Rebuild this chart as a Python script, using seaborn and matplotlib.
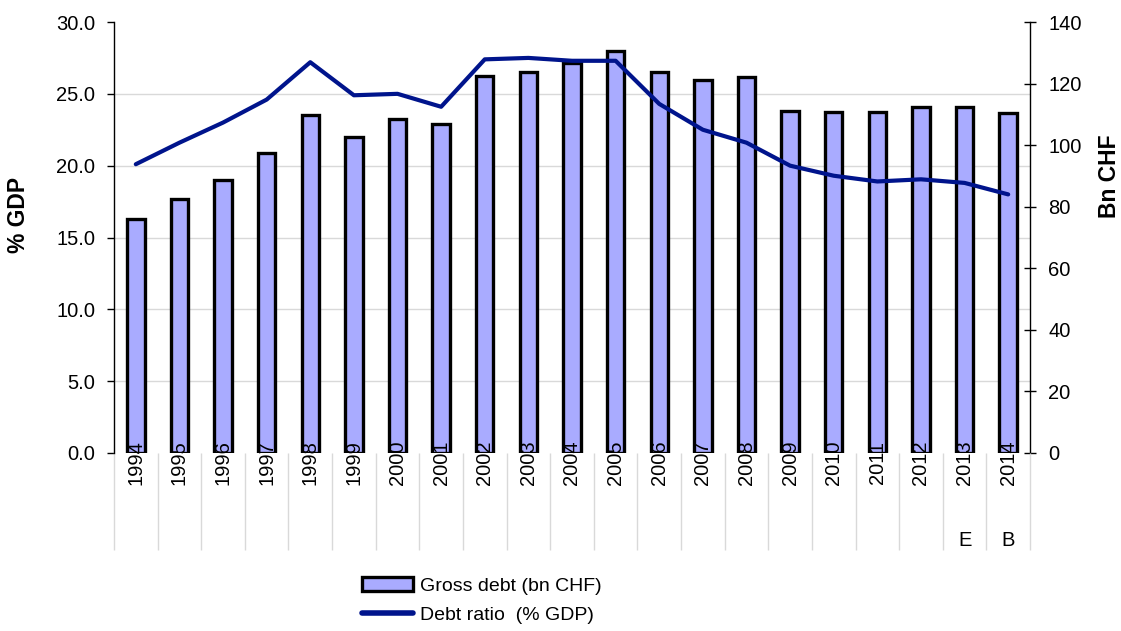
import numpy as np
import pandas as pd
import matplotlib
matplotlib.use("Agg")
import matplotlib.pyplot as plt
import seaborn as sns
from matplotlib.patches import Patch
from matplotlib.lines import Line2D
from matplotlib.ticker import FormatStrFormatter

# ---- data ----
years = ["1994", "1995", "1996", "1997", "1998", "1999", "2000", "2001", "2002", "2003",
         "2004", "2005", "2006", "2007", "2008", "2009", "2010", "2011", "2012", "2013", "2014"]
sub_labels = [""] * 19 + ["E", "B"]
gross_debt = [75.9, 82.4, 88.7, 97.3, 109.8, 102.5, 108.4, 106.9, 122.5, 123.9,
              126.8, 130.7, 123.9, 121.2, 122.0, 111.2, 110.7, 110.7, 112.5, 112.4, 110.3]
debt_ratio = [20.1, 21.6, 23.0, 24.6, 27.2, 24.9, 25.0, 24.1, 27.4, 27.5,
              27.3, 27.3, 24.3, 22.5, 21.6, 20.0, 19.3, 18.9, 19.05, 18.8, 18.0]
left_ticks = [0, 5, 10, 15, 20, 25, 30]
right_ticks = [0, 20, 40, 60, 80, 100, 120, 140]
label_bars = "Gross debt (bn CHF)"
label_line = "Debt ratio  (% GDP)"

df = pd.DataFrame({"year": years, "gross": gross_debt, "ratio": debt_ratio})

bar_color = "#a9abff"
line_color = "#00148c"
grid_color = "#d9d9d9"

sns.set_theme(style="white")
plt.rcParams["font.family"] = ["Liberation Sans", "DejaVu Sans"]
plt.rcParams["text.color"] = "black"
plt.rcParams["axes.labelcolor"] = "black"
plt.rcParams["xtick.color"] = "black"
plt.rcParams["ytick.color"] = "black"

fig, ax = plt.subplots(figsize=(11.21, 6.31), dpi=100)
fig.subplots_adjust(left=114 / 1121, right=1030 / 1121, bottom=1 - 453 / 631, top=1 - 22 / 631)
axb = ax.twinx()
ax.set_zorder(2)
axb.set_zorder(1)
ax.patch.set_visible(False)

# bars on right axis (Bn CHF)
sns.barplot(data=df, x="year", y="gross", ax=axb, color=bar_color, saturation=1,
            edgecolor="black", linewidth=2.4, width=0.4)
# line on left axis (% GDP)
sns.pointplot(data=df, x="year", y="ratio", ax=ax, color=line_color, errorbar=None,
              marker="", linewidth=3)

ax.set_xlim(-0.5, len(years) - 0.5)
ax.set_ylim(0, 30)
ax.set_yticks(left_ticks)
ax.yaxis.set_major_formatter(FormatStrFormatter("%.1f"))
axb.set_ylim(0, 140)
axb.set_yticks(right_ticks)

# horizontal gridlines at left-axis ticks, drawn beneath the bars
axb.set_yticks([t / 30 * 140 for t in left_ticks], minor=True)
axb.set_axisbelow(True)
axb.grid(False)
axb.grid(which="minor", axis="y", color=grid_color, linewidth=1)
axb.xaxis.grid(False)
ax.grid(False)

# spines
for s in ["top", "right", "bottom"]:
    ax.spines[s].set_visible(False)
ax.spines["left"].set_color("black")
ax.spines["left"].set_linewidth(1)
for s in ["top", "left", "bottom"]:
    axb.spines[s].set_visible(False)
axb.spines["right"].set_color("black")
axb.spines["right"].set_linewidth(1)

# ticks
ax.tick_params(axis="y", direction="out", length=5, width=1, color="black",
               labelcolor="black", labelsize=14.5, pad=8.6, left=True)
axb.tick_params(axis="y", which="major", direction="inout", length=8.6, width=1,
                color="black", labelcolor="black", labelsize=14.5, pad=9, right=True)
axb.tick_params(axis="y", which="minor", length=0)
ax.tick_params(axis="x", length=0, pad=-9, labelsize=14.5, labelcolor="black",
               labelrotation=90, bottom=True)

# axis labels
ax.set_xlabel("")
axb.set_xlabel("")
ax.set_ylabel("% GDP", fontsize=16.5, fontweight="bold", color="black")
ax.yaxis.set_label_coords((30 - 114) / 916, (453 - 215) / 431)
axb.set_ylabel("Bn CHF", fontsize=16.5, fontweight="bold", color="black")
axb.yaxis.set_label_coords((1098 - 114) / 916, (453 - 176) / 431)

# category separators below the axis
ax.vlines(np.arange(len(years) + 1) - 0.5, -0.225, 0, transform=ax.get_xaxis_transform(),
          colors=grid_color, linewidth=1, clip_on=False)
for i, s in enumerate(sub_labels):
    if s:
        ax.text(i, -0.202, s, transform=ax.get_xaxis_transform(), ha="center", va="center",
                fontsize=14.5, color="black")

# legend
handles = [Patch(facecolor=bar_color, edgecolor="black", linewidth=2.4),
           Line2D([0], [0], color=line_color, linewidth=4)]
leg = fig.legend(handles, [label_bars, label_line], loc="upper left",
                 bbox_to_anchor=(362 / 1121, 1 - 577 / 631), frameon=False, fontsize=14,
                 handlelength=2.6, handletextpad=0.36, labelspacing=0.6, borderpad=0,
                 borderaxespad=0)
for t in leg.get_texts():
    t.set_color("black")

fig.savefig("out.png", dpi=100)
